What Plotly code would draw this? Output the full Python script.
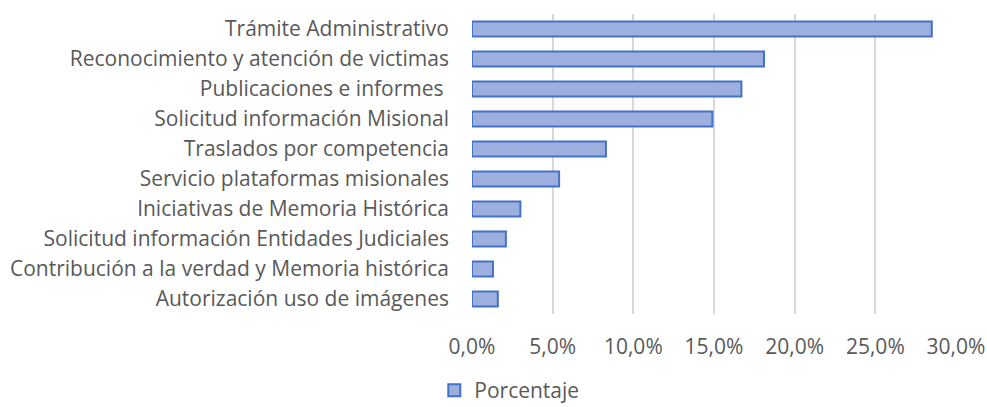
import plotly.graph_objects as go

# Categories (top to bottom) and their share of requests
categorias = [
    "Trámite Administrativo",
    "Reconocimiento y atención de victimas",
    "Publicaciones e informes ",
    "Solicitud información Misional",
    "Traslados por competencia",
    "Servicio plataformas misionales",
    "Iniciativas de Memoria Histórica",
    "Solicitud información Entidades Judiciales",
    "Contribución a la verdad y Memoria histórica",
    "Autorización uso de imágenes",
]
porcentaje = [0.285, 0.181, 0.167, 0.149, 0.083, 0.054, 0.030, 0.021, 0.013, 0.016]
ticks_x = [0.0, 0.05, 0.10, 0.15, 0.20, 0.25, 0.30]

TXT = "#595959"
FONT = "Open Sans"
FS = 21

fig = go.Figure(
    go.Bar(
        y=categorias,
        x=porcentaje,
        orientation="h",
        name="Porcentaje",
        marker=dict(color="#9dafdf", line=dict(color="#4472c4", width=2)),
        width=0.5,
    )
)

fig.update_layout(
    width=987,
    height=407,
    paper_bgcolor="white",
    plot_bgcolor="white",
    margin=dict(l=472, r=31, t=14, b=93, autoexpand=False),
    separators=",.",
    font=dict(family=FONT, color=TXT, size=FS),
    showlegend=True,
    legend=dict(
        orientation="h",
        xref="container",
        yref="paper",
        x=0.516,
        y=-0.255,
        xanchor="center",
        yanchor="middle",
        itemwidth=30,
        font=dict(size=FS, color=TXT),
    ),
    xaxis=dict(
        range=[0, 0.30],
        tickvals=ticks_x,
        tickformat=".1%",
        showgrid=True,
        gridcolor="#d9d9d9",
        gridwidth=1.5,
        zeroline=False,
        showline=False,
        ticks="",
        automargin=False,
        ticklabelstandoff=18,
        tickfont=dict(size=FS, color=TXT),
    ),
    yaxis=dict(
        categoryorder="array",
        categoryarray=categorias[::-1],
        showgrid=False,
        zeroline=False,
        showline=False,
        ticks="",
        automargin=False,
        ticklabelstandoff=22,
        tickfont=dict(size=FS, color=TXT),
    ),
)

fig.write_html("out.html")
